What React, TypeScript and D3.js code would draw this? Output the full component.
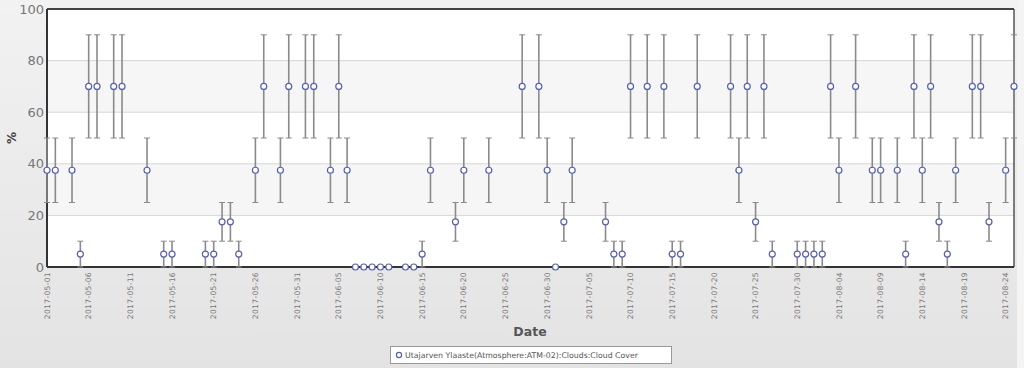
import React from 'react';
import * as d3 from 'd3';

// cloud cover observations (date, %)
const dates = [
  '2017-05-01', '2017-05-02', '2017-05-04', '2017-05-05', '2017-05-06', '2017-05-07', '2017-05-09', '2017-05-10',
  '2017-05-13', '2017-05-15', '2017-05-16', '2017-05-20', '2017-05-21', '2017-05-22', '2017-05-23', '2017-05-24',
  '2017-05-26', '2017-05-27', '2017-05-29', '2017-05-30', '2017-06-01', '2017-06-02', '2017-06-04', '2017-06-05',
  '2017-06-06', '2017-06-07', '2017-06-08', '2017-06-09', '2017-06-10', '2017-06-11', '2017-06-13', '2017-06-14',
  '2017-06-15', '2017-06-16', '2017-06-19', '2017-06-20', '2017-06-23', '2017-06-27', '2017-06-29', '2017-06-30',
  '2017-07-01', '2017-07-02', '2017-07-03', '2017-07-07', '2017-07-08', '2017-07-09', '2017-07-10', '2017-07-12',
  '2017-07-14', '2017-07-15', '2017-07-16', '2017-07-18', '2017-07-22', '2017-07-23', '2017-07-24', '2017-07-25',
  '2017-07-26', '2017-07-27', '2017-07-30', '2017-07-31', '2017-08-01', '2017-08-02', '2017-08-03', '2017-08-04',
  '2017-08-06', '2017-08-08', '2017-08-09', '2017-08-11', '2017-08-12', '2017-08-13', '2017-08-14', '2017-08-15',
  '2017-08-16', '2017-08-17', '2017-08-18', '2017-08-20', '2017-08-21', '2017-08-22', '2017-08-24', '2017-08-25',
];

const cover = [
  37.5, 37.5, 37.5, 5, 70, 70, 70, 70,
  37.5, 5, 5, 5, 5, 17.5, 17.5, 5,
  37.5, 70, 37.5, 70, 70, 70, 37.5, 70,
  37.5, 0, 0, 0, 0, 0, 0, 0,
  5, 37.5, 17.5, 37.5, 37.5, 70, 70, 37.5,
  0, 17.5, 37.5, 17.5, 5, 5, 70, 70,
  70, 5, 5, 70, 70, 37.5, 70, 17.5,
  70, 5, 5, 5, 5, 5, 70, 37.5,
  70, 37.5, 37.5, 37.5, 5, 70, 37.5, 70,
  17.5, 5, 37.5, 70, 70, 17.5, 37.5, 70,
];

// error range for each cover class
const classLevels = [0, 5, 17.5, 37.5, 70];
const classLow = [0, 0, 10, 25, 50];
const classHigh = [0, 10, 25, 50, 90];

const yTicks = [0, 20, 40, 60, 80, 100];
const xTickDates = [
  '2017-05-01', '2017-05-06', '2017-05-11', '2017-05-16', '2017-05-21', '2017-05-26', '2017-05-31',
  '2017-06-05', '2017-06-10', '2017-06-15', '2017-06-20', '2017-06-25', '2017-06-30', '2017-07-05',
  '2017-07-10', '2017-07-15', '2017-07-20', '2017-07-25', '2017-07-30', '2017-08-04', '2017-08-09',
  '2017-08-14', '2017-08-19', '2017-08-24',
];
const seriesName = 'Utajarven Ylaaste(Atmosphere:ATM-02):Clouds:Cloud Cover';

const W = 1024;
const H = 368;
const plot = { left: 47, right: 1014, top: 9, bottom: 267 };
const font = '"DejaVu Sans", Verdana, sans-serif';

export default function App() {
  const parse = d3.utcParse('%Y-%m-%d');
  const x = d3.scaleUtc()
    .domain([parse('2017-05-01')!, parse('2017-08-25')!])
    .range([plot.left, plot.right]);
  const y = d3.scaleLinear().domain([0, 100]).range([plot.bottom, plot.top]);

  const points = dates.map((d, i) => {
    const k = classLevels.indexOf(cover[i]);
    return { date: parse(d)!, v: cover[i], lo: classLow[k], hi: classHigh[k] };
  });

  const bands = [[20, 40], [60, 80]];

  return (
    <div style={{ position: 'absolute', left: 0, top: 0 }}>
      <svg width={W} height={H} style={{ display: 'block', fontFamily: font }}>
        <defs>
          <linearGradient id="bg" x1="0" y1="0" x2="0" y2="1">
            <stop offset="0" stopColor="#f2f2f2" />
            <stop offset="1" stopColor="#e3e3e3" />
          </linearGradient>
        </defs>
        <rect x={0} y={0} width={W} height={H} fill="url(#bg)" />
        <rect x={1017} y={0} width={7} height={H} fill="#f4f4f4" />

        {/* plot area */}
        <rect x={plot.left} y={plot.top} width={plot.right - plot.left} height={plot.bottom - plot.top} fill="#ffffff" />
        {bands.map(([a, b]) => (
          <rect key={a} x={plot.left} y={y(b)} width={plot.right - plot.left} height={y(a) - y(b)} fill="#f6f6f6" />
        ))}
        {yTicks.slice(1, -1).map(t => (
          <line key={t} x1={plot.left} x2={plot.right} y1={y(t)} y2={y(t)} stroke="#d6d6d6" strokeWidth={1} />
        ))}

        {/* border */}
        <line x1={plot.right} x2={plot.right} y1={plot.top} y2={plot.bottom} stroke="#555" strokeWidth={1.5} />
        <line x1={plot.left} x2={plot.right} y1={plot.top} y2={plot.top} stroke="#444" strokeWidth={2} />
        <line x1={plot.left} x2={plot.left} y1={plot.top} y2={plot.bottom} stroke="#333" strokeWidth={2} />
        <line x1={plot.left} x2={plot.right} y1={plot.bottom} y2={plot.bottom} stroke="#333" strokeWidth={2} />

        {/* y axis */}
        {yTicks.map(t => (
          <text key={t} x={plot.left - 3} y={y(t)} dy="0.35em" textAnchor="end" fontSize={13} fill="#777">
            {t}
          </text>
        ))}
        <text transform={`translate(16,${(plot.top + plot.bottom) / 2}) rotate(-90)`} textAnchor="middle"
          fontSize={12} fontWeight="bold" fill="#444">%</text>

        {/* x axis */}
        {xTickDates.map(d => {
          const px = x(parse(d)!);
          return (
            <text key={d} transform={`translate(${px},${plot.bottom + 5}) rotate(-90)`} dy="0.35em"
              textAnchor="end" fontSize={7.6} fill="#777" letterSpacing={0.3}>
              {d}
            </text>
          );
        })}
        <text x={530} y={336} textAnchor="middle" fontSize={12.5} fontWeight="bold" fill="#555">Date</text>

        {/* error bars */}
        {points.filter(p => p.hi > p.lo).map((p, i) => {
          const px = x(p.date);
          return (
            <g key={i} stroke="#8a8a8a">
              <line x1={px} x2={px} y1={y(p.hi)} y2={y(p.lo)} strokeWidth={1.6} />
              <line x1={px - 3} x2={px + 3} y1={y(p.hi)} y2={y(p.hi)} strokeWidth={1} />
              <line x1={px - 3} x2={px + 3} y1={y(p.lo)} y2={y(p.lo)} strokeWidth={1} />
            </g>
          );
        })}

        {/* points */}
        {points.map((p, i) => (
          <circle key={i} cx={x(p.date)} cy={y(p.v)} r={3} fill="#fff" stroke="#5660b4" strokeWidth={1.2} />
        ))}

        {/* legend */}
        <rect x={390.5} y={346.5} width={281} height={17} fill="#fff" stroke="#999" strokeWidth={1} />
        <circle cx={399} cy={355} r={2.6} fill="#fff" stroke="#5660b4" strokeWidth={1.2} />
        <text x={405} y={355} dy="0.35em" fontSize={7.8} fill="#555">{seriesName}</text>
      </svg>
    </div>
  );
}
